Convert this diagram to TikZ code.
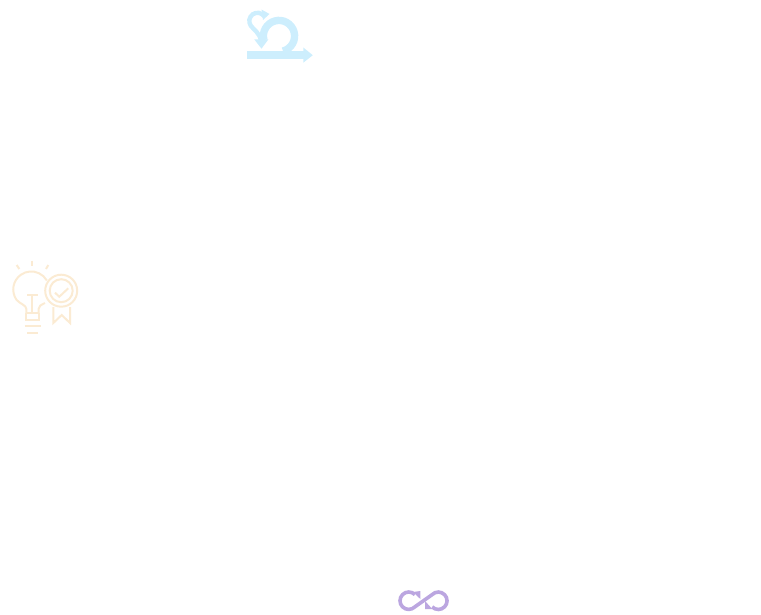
\documentclass[tikz,border=0pt]{standalone}
\definecolor{sprintblue}{HTML}{CDEEFD}
\definecolor{bulbcream}{HTML}{FBEBD3}
\definecolor{loopviolet}{HTML}{BBA6E0}
\tikzset{
  sprintline/.style={sprintblue,line width=7.4pt},
  bulbline/.style={bulbcream,line width=2pt},
  loopline/.style={loopviolet,line width=3.6pt},
}
\begin{document}
\begin{tikzpicture}[x=1pt,y=-1pt]
  \useasboundingbox (0,0) rectangle (761,615);

  % Sprint cycle icon
  \draw[sprintline] (279,36) ++(75:15.6) arc (75:-195:15.6);
  \fill[sprintblue] (247,51.5) rectangle (304,59);
  \fill[sprintblue] (303.3,47.5) -- (312.8,55.2) -- (303.3,62.7) -- cycle;
  \draw[sprintblue,line width=4.4pt] (257.5,21) ++(-35:8.2) arc (-35:-215:8.2)
    .. controls (253,29) and (260,33) .. (261,41);
  \fill[sprintblue] (261.5,9.5) -- (269.5,14) -- (263,20) -- cycle;
  \fill[sprintblue] (254.3,39.5) -- (268.3,39.5) -- (261.5,48.7) -- cycle;

  % Light bulb with medal
  \draw[bulbline] (26.3,313) -- (26.3,309) .. controls (26.3,305) and (20,304) .. (16.5,299.8)
    arc (145:330:18);
  \draw[bulbline] (38.5,313) -- (38.5,309) .. controls (38.5,306) and (41,305) .. (45,303);
  \draw[bulbline] (26.3,313) -- (38.5,313);
  \draw[bulbline] (26.3,313) -- (26.3,320) -- (38.5,320) -- (38.5,313);
  \draw[bulbline] (32.3,313) -- (32.3,295);
  \draw[bulbline] (27,295) -- (37.5,295);
  \draw[bulbline] (24.7,326) -- (40.7,326);
  \draw[bulbline] (27.3,333) -- (38,333);
  \draw[bulbline] (32.3,260.5) -- (32.3,266);
  \draw[bulbline] (16.7,265) -- (19.3,269);
  \draw[bulbline] (48.3,265) -- (46,269);
  \draw[bulbline] (61.2,290.7) circle (16);
  \draw[bulbline] (61.2,290.7) circle (11.5);
  \draw[bulbline] (55,292.7) -- (59.3,296.7) -- (68.3,288.3);
  \draw[bulbline] (53.3,307) -- (53.3,323) -- (61.7,315) -- (70,323) -- (70,307);

  % Infinity loop icon
  \draw[loopline] (408.7,600.7) ++(-45:8.7) arc (-45:-315:8.7) -- (432.2,594.6)
    arc (225:495:8.7);
  \fill[loopviolet] (413,592) -- (420.3,591) -- (420.3,599) -- cycle;
  \fill[loopviolet] (425,601) -- (425,609) -- (432.3,609) -- cycle;
\end{tikzpicture}
\end{document}
